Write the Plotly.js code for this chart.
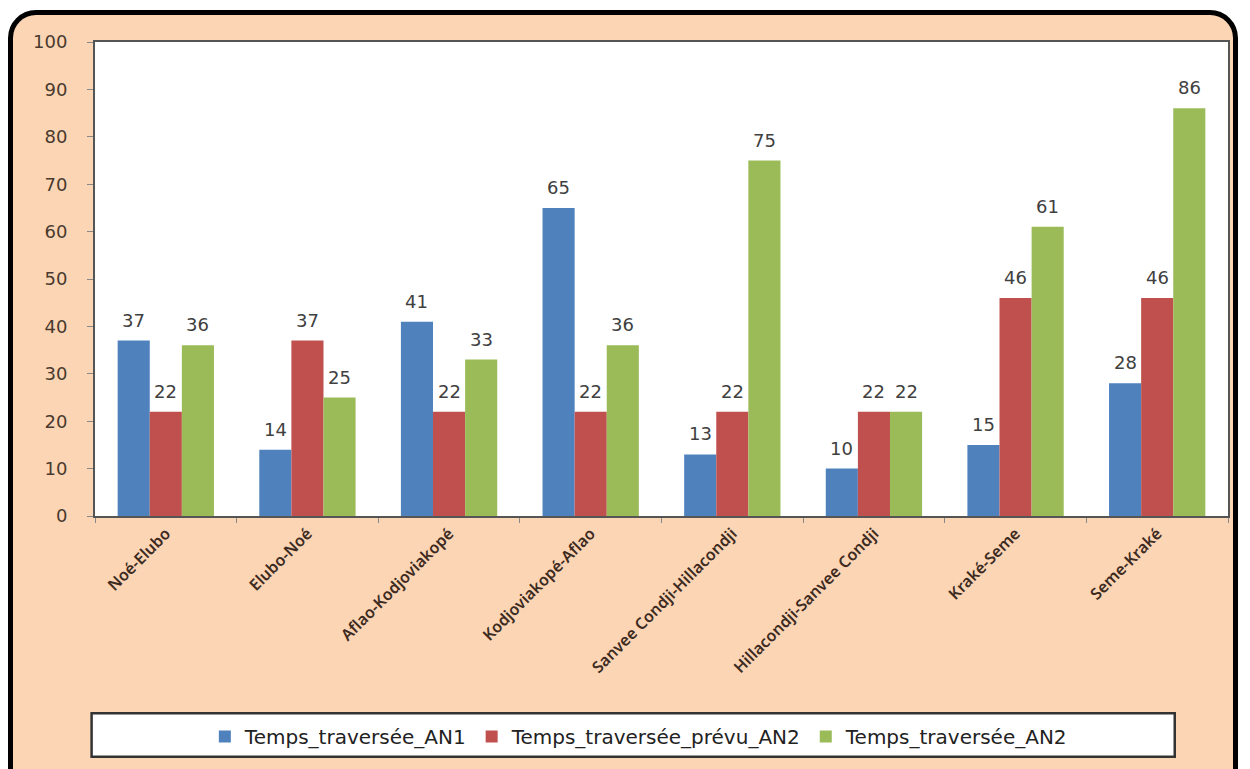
<!DOCTYPE html>
<html>
<head>
<meta charset="utf-8">
<script src="https://cdn.plot.ly/plotly-3.0.1.min.js"></script>
<style>
  html, body { margin:0; padding:0; background:#ffffff; width:1250px; height:769px; overflow:hidden; }
  #frame { position:absolute; left:8px; top:10px; width:1230px; height:800px; background:#FCD5B5;
           border:5px solid #000; border-radius:28px; box-sizing:border-box; }
  #chart { position:absolute; left:0; top:0; width:1250px; height:769px; }
</style>
</head>
<body>
<div id="frame"></div>
<div id="chart"></div>
<script>
const categories = ["Noé-Elubo", "Elubo-Noé", "Aflao-Kodjoviakopé", "Kodjoviakopé-Aflao",
  "Sanvee Condji-Hillacondji", "Hillacondji-Sanvee Condji", "Kraké-Seme", "Seme-Kraké"];
const seriesNames = ["Temps_traversée_AN1", "Temps_traversée_prévu_AN2", "Temps_traversée_AN2"];
const an1 = [37, 14, 41, 65, 13, 10, 15, 28];
const prevuAn2 = [22, 37, 22, 22, 22, 22, 46, 46];
const an2 = [36, 25, 33, 36, 75, 22, 61, 86];
const yTicks = [0, 10, 20, 30, 40, 50, 60, 70, 80, 90, 100];

const colors = ["#4F81BD", "#C0504D", "#9BBB59"];
const values = [an1, prevuAn2, an2];

const W = 1250, H = 769, M = { l: 95, r: 22, t: 42, b: 253 };
const bargap = 0.32;
const catWidthPx = (W - M.l - M.r) / categories.length;
const barPx = catWidthPx * (1 - bargap) / values.length;

const traces = values.map((v, i) => ({
  type: "bar",
  name: seriesNames[i],
  x: categories,
  y: v,
  marker: { color: colors[i] },
  hoverinfo: "x+y"
}));

const annotations = [];
values.forEach((v, i) => {
  v.forEach((val, j) => {
    annotations.push({
      x: categories[j], y: val, xref: "x", yref: "y",
      text: String(val), showarrow: false,
      xanchor: "center", yanchor: "bottom",
      xshift: (i - 1) * barPx, yshift: 8,
      font: { family: "DejaVu Sans", size: 18, color: "#404040" }
    });
  });
});

const layout = {
  width: W, height: H,
  margin: M,
  paper_bgcolor: "rgba(0,0,0,0)",
  plot_bgcolor: "#ffffff",
  barmode: "group",
  bargap: bargap,
  bargroupgap: 0,
  showlegend: true,
  xaxis: {
    type: "category",
    tickangle: -45,
    tickfont: { family: "Noto Sans", size: 16, weight: 600, color: "#3d2b1f" },
    showline: true, linecolor: "#555", linewidth: 2, mirror: true,
    ticks: "outside", tickson: "boundaries", ticklen: 5, tickcolor: "#888",
    showgrid: false
  },
  yaxis: {
    range: [0, 100],
    tickvals: yTicks,
    tickfont: { family: "DejaVu Sans", size: 18, color: "#4a3a2e" },
    showline: true, linecolor: "#555", linewidth: 2, mirror: true,
    ticks: "outside", ticklen: 6, tickcolor: "#888",
    ticklabelstandoff: 16,
    showgrid: false, zeroline: false
  },
  legend: {
    orientation: "h",
    x: 0.48, xanchor: "center",
    y: -0.424, yanchor: "top",
    bgcolor: "rgba(0,0,0,0)",
    font: { family: "DejaVu Sans", size: 20, color: "#222" },
    itemwidth: 30,
    traceorder: "normal"
  },
  annotations: annotations,
  shapes: [{
    type: "rect", xref: "paper", yref: "paper",
    x0: -0.003, x1: 0.953, y0: -0.508, y1: -0.416,
    fillcolor: "#ffffff", line: { color: "#333", width: 2.5 }, layer: "below"
  }]
};

Plotly.newPlot("chart", traces, layout, { displayModeBar: false, staticPlot: true });
</script>
</body>
</html>
